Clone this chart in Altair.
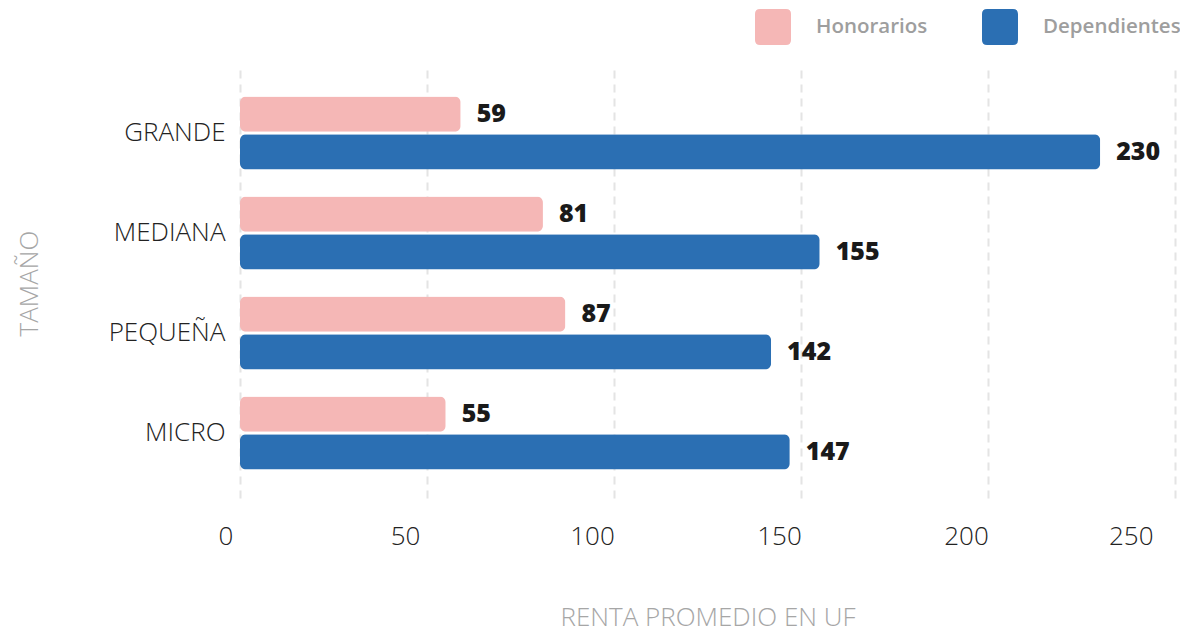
import altair as alt
import pandas as pd

categorias = ["GRANDE", "MEDIANA", "PEQUEÑA", "MICRO"]
honorarios = [59, 81, 87, 55]
dependientes = [230, 155, 142, 147]
series = ["Honorarios", "Dependientes"]
colores = ["#F5B7B6", "#2B6FB3"]
x_ticks = [0, 50, 100, 150, 200, 250]

rows = []
for c, h, d in zip(categorias, honorarios, dependientes):
    rows.append({"tamano": c, "tipo": series[0], "valor": h})
    rows.append({"tamano": c, "tipo": series[1], "valor": d})
df = pd.DataFrame(rows)

FONT = "Open Sans"
rounded = ("M -0.72 -1 L 0.72 -1 Q 1 -1 1 -0.72 L 1 0.72 Q 1 1 0.72 1 "
           "L -0.72 1 Q -1 1 -1 0.72 L -1 -0.72 Q -1 -1 -0.72 -1 Z")

y_enc = alt.Y("tamano:N", sort=categorias,
              scale=alt.Scale(paddingInner=0.27, paddingOuter=0.285),
              axis=alt.Axis(title="TAMAÑO", titleFont=FONT, titleFontWeight=300,
                            titleFontSize=26, titleColor="#A6A6A6", titlePadding=66,
                            labelFont=FONT, labelFontWeight=300, labelFontSize=26,
                            labelColor="#222222", labelPadding=15, ticks=False,
                            domain=False, grid=False))
x_enc = alt.X("valor:Q", scale=alt.Scale(domain=[0, 250], nice=False),
              axis=alt.Axis(values=x_ticks, title="RENTA PROMEDIO EN UF",
                            titleFont=FONT, titleFontWeight=300, titleFontSize=26,
                            titleColor="#A6A6A6", titlePadding=55,
                            labelFont=FONT, labelFontWeight=300, labelFontSize=26,
                            labelColor="#222222", labelPadding=25, labelOffset=-22,
                            ticks=False, domain=False, grid=True,
                            gridColor="#E4E4E4", gridDash=[8, 6], gridWidth=2))
color_enc = alt.Color("tipo:N", sort=series,
                      scale=alt.Scale(domain=series, range=colores),
                      legend=alt.Legend(title=None, orient="none", direction="horizontal",
                                        legendX=515, legendY=-59,
                                        symbolType=rounded, symbolSize=1296,
                                        symbolStrokeWidth=0, symbolOpacity=1,
                                        labelFont=FONT, labelFontSize=20.5,
                                        labelFontWeight=600, labelColor="#9E9E9E",
                                        labelOffset=25, columnPadding=54))

bars = alt.Chart(df).mark_bar(cornerRadius=6, opacity=1).encode(
    x=x_enc, y=y_enc, color=color_enc,
    yOffset=alt.YOffset("tipo:N", sort=series, scale=alt.Scale(paddingInner=0.06)),
)
text = alt.Chart(df).mark_text(align="left", baseline="middle", dx=16,
                               font=FONT, fontSize=25, fontWeight=800,
                               color="#1A1A1A").encode(
    x="valor:Q",
    y=alt.Y("tamano:N", sort=categorias),
    yOffset=alt.YOffset("tipo:N", sort=series),
    text="valor:Q",
)

chart = alt.layer(bars, text).properties(
    width=935, height=430,
    autosize=alt.AutoSizeParams(type="none"),
    padding={"left": 232, "top": 60, "right": 5, "bottom": 135},
).configure_view(stroke=None)

chart.save("out.html", embed_options={"renderer": "svg", "actions": False})
